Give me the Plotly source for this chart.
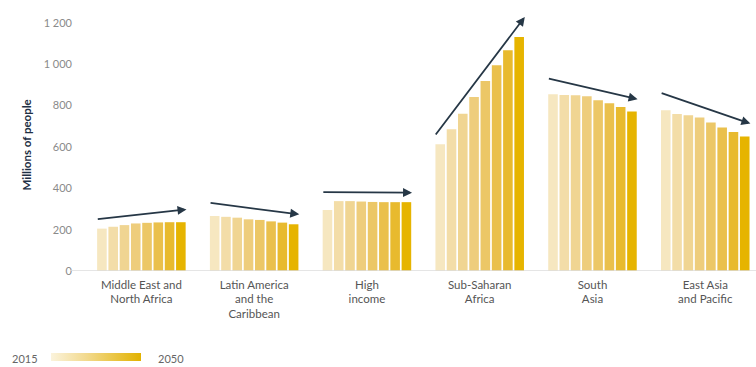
import plotly.graph_objects as go

regions = ["Middle East and<br>North Africa", "Latin America<br>and the<br>Caribbean",
           "High<br>income", "Sub-Saharan<br>Africa", "South<br>Asia", "East Asia<br>and Pacific"]
years = ["2015", "2020", "2025", "2030", "2035", "2040", "2045", "2050"]

# values[region][year]
values = {
    "Middle East and<br>North Africa": [205, 214, 222, 230, 233, 235, 236, 236],
    "Latin America<br>and the<br>Caribbean": [266, 262, 258, 250, 247, 240, 234, 226],
    "High<br>income": [295, 338, 338, 336, 334, 333, 333, 333],
    "Sub-Saharan<br>Africa": [613, 686, 761, 842, 919, 995, 1068, 1132],
    "South<br>Asia": [855, 851, 850, 845, 826, 811, 793, 771],
    "East Asia<br>and Pacific": [777, 760, 753, 742, 718, 694, 672, 650],
}

year_colors = ["#f6e7c0", "#f3dda8", "#f0d592", "#eecd7c", "#ecc766", "#eac04c", "#e8ba2e", "#e6b400"]

# trend arrows: start / end value for each region
arrow_start = [250, 330, 382, 653, 932, 863]
arrow_end = [298, 274, 379, 1229, 831, 713]

yticks = [0, 200, 400, 600, 800, 1000, 1200]

L, T, B, W, H = 85, 1, 96, 756, 367
PW, PH = W - L, H - T - B


def px(x):
    return (x - L) / PW


def py(y):
    return (H - B - y) / PH


fig = go.Figure()
for i, yr in enumerate(years):
    fig.add_trace(go.Bar(
        x=regions, y=[values[r][i] for r in regions], name=yr,
        marker=dict(color=year_colors[i], line=dict(width=0)),
        showlegend=False, hoverinfo="skip"))

# gradient legend via colorbar
fig.add_trace(go.Scatter(
    x=[None], y=[None], mode="markers", showlegend=False,
    marker=dict(color=[0], cmin=0, cmax=1,
                colorscale=[[0, "#fbf3dc"], [0.4, "#f2d98c"], [1, "#e2b200"]],
                showscale=True,
                colorbar=dict(orientation="h", xref="container", yref="container",
                              x=108 / W, y=1 - 357 / H, xanchor="center", yanchor="middle",
                              lenmode="pixels", len=90, thickness=8, outlinewidth=0,
                              showticklabels=False, ticks="", xpad=0, ypad=0))))

for k in range(len(regions)):
    fig.add_annotation(x=k + 0.40, y=arrow_end[k], ax=k - 0.40, ay=arrow_start[k],
                       xref="x", yref="y", axref="x", ayref="y", text="",
                       showarrow=True, arrowhead=2, arrowsize=1.0, arrowwidth=1.8,
                       arrowcolor="#263746")

fig.add_annotation(xref="paper", yref="paper", x=px(17), y=py(145), text="<b>Millions of people</b>",
                   textangle=-90, showarrow=False, font=dict(size=11.5, color="#1f3044"))
fig.add_annotation(xref="paper", yref="paper", x=px(10), y=py(358),
                   xanchor="left", yanchor="middle", text="2015", showarrow=False,
                   font=dict(size=11, color="#666666"))
fig.add_annotation(xref="paper", yref="paper", x=px(156), y=py(358),
                   xanchor="left", yanchor="middle", text="2050", showarrow=False,
                   font=dict(size=11, color="#666666"))

fig.add_shape(type="line", xref="paper", yref="y", x0=px(70), x1=1, y0=0, y1=0,
              line=dict(color="#dcdcdc", width=1.5))

fig.update_layout(
    width=W, height=H, margin=dict(l=L, r=0, t=T, b=B),
    paper_bgcolor="white", plot_bgcolor="white",
    barmode="group", bargap=0.2, bargroupgap=0.15,
    separators=". ",
    font=dict(family="Lato, Open Sans, sans-serif", color="#555555"),
    xaxis=dict(range=[-0.5, 5.45], showgrid=False, showline=False, zeroline=False,
               tickfont=dict(size=11.5, color="#555555"), ticks="", ticklabelstandoff=5),
    yaxis=dict(range=[0, 1306], tickvals=yticks, tickformat=",", showgrid=False,
               zeroline=False, showline=False, ticks="",
               tickfont=dict(size=11, color="#8a8a8a"), ticklabelstandoff=12),
)

fig.write_html("out.html", config={"displayModeBar": False},
               post_script="document.body.style.margin='0';document.body.style.overflow='hidden';")
